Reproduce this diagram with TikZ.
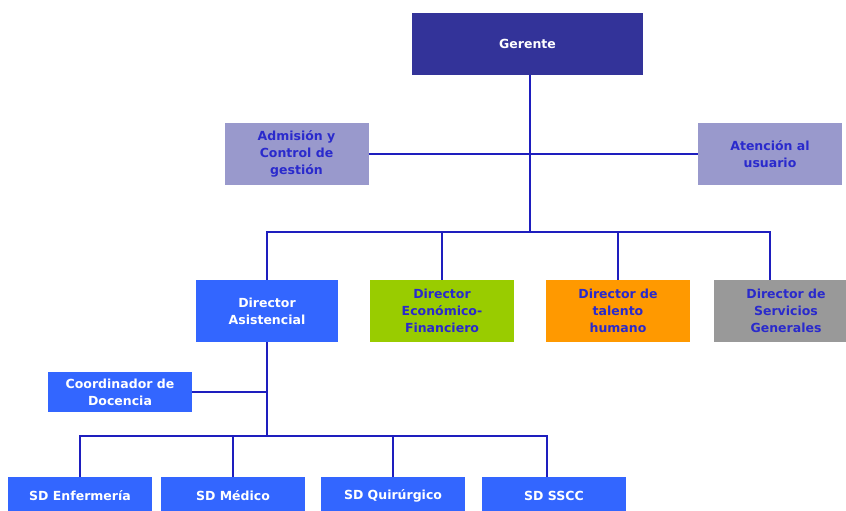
\documentclass[tikz,border=0pt]{standalone}
\usepackage{fontspec}
\setmainfont{DejaVu Sans}
\usepackage{xcolor}
\definecolor{navy}{HTML}{333399}
\definecolor{lavender}{HTML}{9999CC}
\definecolor{boxblue}{HTML}{3366FF}
\definecolor{lime}{HTML}{99CC00}
\definecolor{amber}{HTML}{FF9900}
\definecolor{slate}{HTML}{999999}
\definecolor{ink}{HTML}{2A2ACC}
\definecolor{wire}{HTML}{1E1EBE}

\begin{document}
\begin{tikzpicture}[x=1pt,y=-1pt,font=\bfseries\fontsize{12.5}{17}\selectfont,
    base/.style={rectangle,minimum width=144pt,minimum height=62pt,align=center,inner sep=2pt},
    staff/.style={base,fill=lavender,text=ink},
    director/.style={base,text=ink},
    sub/.style={base,fill=boxblue,text=white,minimum height=40pt},
    wireline/.style={draw=wire,line width=2.8pt}]

    \useasboundingbox (0,0) rectangle (846,511);

    \node[base, fill=navy, text=white, minimum width=231pt] (gerente) at (527.5,44)
    {Gerente};

    \node[staff] (admision) at (296.5,154)
    {Admisión y\\Control de\\gestión};
    \node[staff] (atencion) at (770,154)
    {Atención al\\usuario};

    \node[director, fill=boxblue, text=white, minimum width=142pt] (asistencial) at (267,311)
    {Director\\Asistencial};
    \node[director, fill=lime] (economico) at (442,311)
    {Director\\Económico-\\Financiero};
    \node[director, fill=amber] (talento) at (618,311)
    {Director de\\talento\\humano};
    \node[director, fill=slate] (servicios) at (786,311)
    {Director de\\Servicios\\Generales};

    \node[sub] (docencia) at (120,392)
    {Coordinador de\\Docencia};

    \node[sub, minimum height=38pt] (enfermeria) at (80,496) {SD Enfermería};
    \node[sub, minimum height=38pt] (medico) at (233,496) {SD Médico};
    \node[sub, minimum height=38pt] (quirurgico) at (393,496) {SD Quirúrgico};
    \node[sub, minimum height=38pt] (sscc) at (554,496) {SD SSCC};

    % junctions
    \coordinate (top) at (530,232);
    \coordinate (low) at (267,436);
    \coordinate (servdrop) at ([xshift=-16pt]servicios.north);
    \coordinate (ssccdrop) at ([xshift=-7pt]sscc.north);

    \draw[wireline] (gerente.south -| top) -- (top);
    \draw[wireline] (admision) -- (atencion);
    \draw[wireline] (asistencial.north) |- (top) -| (servdrop);
    \draw[wireline] (economico.north) -- (economico.north |- top);
    \draw[wireline] (talento.north) -- (talento.north |- top);

    \draw[wireline] (asistencial.south) -- (low);
    \draw[wireline] (docencia.east) -- (docencia.east -| low);
    \draw[wireline] (enfermeria.north) |- (low) -| (ssccdrop);
    \draw[wireline] (medico.north) -- (medico.north |- low);
    \draw[wireline] (quirurgico.north) -- (quirurgico.north |- low);
\end{tikzpicture}
\end{document}
